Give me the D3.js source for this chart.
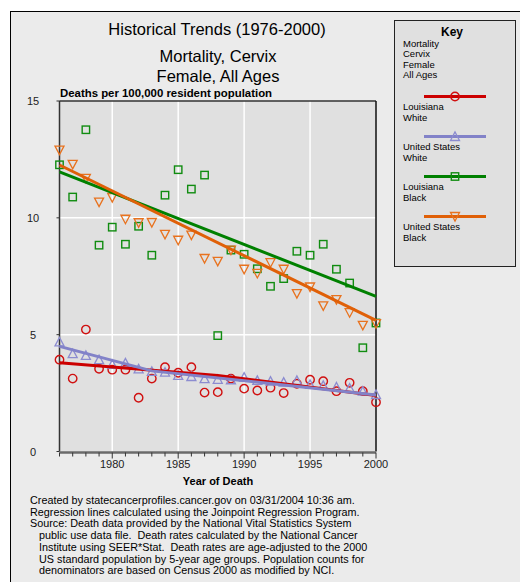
<!DOCTYPE html>
<html>
<head>
<meta charset="utf-8">
<script src="https://cdn.jsdelivr.net/npm/d3@7"></script>
<style>
  html, body { margin: 0; padding: 0; background: #fff; }
  svg { display: block; font-family: "Liberation Sans", Arial, sans-serif; }
</style>
</head>
<body>
<div id="chart"></div>
<script>
// observed rates, deaths per 100,000
const years = d3.range(1976, 2001);
const laWhite = [3.93, 3.12, 5.22, 3.54, 3.5, 3.5, 2.3, 3.12, 3.61, 3.37, 3.61, 2.52, 2.54,
  3.12, 2.69, 2.61, 2.73, 2.5, 2.9, 3.07, 3.01, 2.58, 2.94, 2.58, 2.11];
const usWhite = [4.69, 4.19, 4.11, 3.93, 3.73, 3.79, 3.54, 3.43, 3.4, 3.26, 3.21, 3.12, 3.09,
  3.07, 3.18, 3.04, 3.01, 2.97, 3.04, 2.87, 2.83, 2.76, 2.71, 2.58, 2.44];
const laBlack = [12.27, 10.89, 13.77, 8.83, 9.6, 8.87, 9.64, 8.4, 10.97, 12.06, 11.23, 11.83, 4.96,
  8.62, 8.44, 7.82, 7.07, 7.4, 8.57, 8.4, 8.87, 7.8, 7.21, 4.44, 5.5];
const usBlack = [12.9, 12.29, 11.69, 10.67, 10.87, 9.94, 9.79, 9.8, 9.29, 9.04, 9.26, 8.26, 8.14,
  8.62, 7.8, 7.62, 8.08, 7.8, 6.76, 7.04, 6.23, 6.5, 5.94, 5.4, 5.47];

// joinpoint regression lines (knot years / fitted values)
const laWhiteTrendYears = [1976, 1988, 2000];
const laWhiteTrend = [3.8, 3.25, 2.4];
const usWhiteTrendYears = [1976, 1983, 2000];
const usWhiteTrend = [4.5, 3.45, 2.42];
const laBlackTrendYears = [1976, 2000];
const laBlackTrend = [11.97, 6.64];
const usBlackTrendYears = [1976, 2000];
const usBlackTrend = [12.26, 5.61];

const yTicks = [0, 5, 10, 15];
const xTicks = [1980, 1985, 1990, 1995, 2000];

const keyHeader = ["Mortality", "Cervix", "Female", "All Ages"];
const footer = [
  "Created by statecancerprofiles.cancer.gov on 03/31/2004 10:36 am.",
  "Regression lines calculated using the Joinpoint Regression Program.",
  "Source: Death data provided by the National Vital Statistics System",
  "   public use data file.  Death rates calculated by the National Cancer",
  "   Institute using SEER*Stat.  Death rates are age-adjusted to the 2000",
  "   US standard population by 5-year age groups. Population counts for",
  "   denominators are based on Census 2000 as modified by NCI."
];

const series = [
  { name: ["Louisiana", "White"], values: laWhite, ty: laWhiteTrendYears, tv: laWhiteTrend,
    color: "#cc0000", mark: "#d01010", shape: "circle" },
  { name: ["United States", "White"], values: usWhite, ty: usWhiteTrendYears, tv: usWhiteTrend,
    color: "#8282c8", mark: "#8c8cd0", shape: "up" },
  { name: ["Louisiana", "Black"], values: laBlack, ty: laBlackTrendYears, tv: laBlackTrend,
    color: "#008000", mark: "#108c10", shape: "square" },
  { name: ["United States", "Black"], values: usBlack, ty: usBlackTrendYears, tv: usBlackTrend,
    color: "#e06008", mark: "#e8721e", shape: "down" }
];

const W = 520, H = 582;

const svg = d3.select("#chart").append("svg")
  .attr("width", W).attr("height", H);

// outer frame
svg.append("rect").attr("x", 10.5).attr("y", 11.5).attr("width", W).attr("height", H)
  .attr("fill", "#ebebeb").attr("stroke", "#000").attr("stroke-width", 1);

const x = d3.scaleLinear().domain([1976, 2000]).range([59.5, 376]);
const y = d3.scaleLinear().domain([0, 15]).range([451.5, 101]);

// plot background
svg.append("rect")
  .attr("x", x(1976)).attr("y", y(15))
  .attr("width", x(2000) - x(1976)).attr("height", y(0) - y(15))
  .attr("fill", "#e0e0e0");

// grid
svg.append("g").selectAll("line").data(xTicks.filter(d => d < 2000)).join("line")
  .attr("x1", d => x(d)).attr("x2", d => x(d))
  .attr("y1", y(0)).attr("y2", y(15))
  .attr("stroke", "#fff").attr("stroke-width", 1.5);
svg.append("g").selectAll("line").data(yTicks.filter(d => d > 0 && d < 15)).join("line")
  .attr("x1", x(1976)).attr("x2", x(2000))
  .attr("y1", d => y(d)).attr("y2", d => y(d))
  .attr("stroke", "#fff").attr("stroke-width", 1.5);

// frame lines: top, right, left
svg.append("line").attr("x1", x(1976)).attr("x2", x(2000)).attr("y1", y(15)).attr("y2", y(15))
  .attr("stroke", "#333").attr("stroke-width", 1.5);
svg.append("line").attr("x1", x(2000)).attr("x2", x(2000)).attr("y1", y(15)).attr("y2", y(0))
  .attr("stroke", "#111").attr("stroke-width", 1.5);
svg.append("line").attr("x1", x(1976)).attr("x2", x(1976)).attr("y1", y(15)).attr("y2", y(0))
  .attr("stroke", "#333").attr("stroke-width", 1.5);

// y ticks and labels
svg.append("g").selectAll("line").data(yTicks).join("line")
  .attr("x1", x(1976) - 3).attr("x2", x(1976))
  .attr("y1", d => y(d)).attr("y2", d => y(d))
  .attr("stroke", "#333");
svg.append("g").selectAll("text").data(yTicks).join("text")
  .attr("x", 33).attr("y", d => y(d) + 4)
  .attr("text-anchor", "middle").attr("font-size", 11).attr("fill", "#222")
  .text(d => d);

// x axis
svg.append("line").attr("x1", x(1976)).attr("x2", x(2000)).attr("y1", y(0) + 1).attr("y2", y(0) + 1)
  .attr("stroke", "#6a6a6a").attr("stroke-width", 2.5);
svg.append("g").selectAll("line").data(years).join("line")
  .attr("x1", d => x(d)).attr("x2", d => x(d))
  .attr("y1", y(0) + 1).attr("y2", d => y(0) + (d % 5 === 0 ? 7 : 5))
  .attr("stroke", "#333");
svg.append("g").selectAll("text").data(xTicks).join("text")
  .attr("x", d => x(d)).attr("y", 468)
  .attr("text-anchor", "middle").attr("font-size", 11).attr("fill", "#222")
  .text(d => d);
svg.append("text").attr("x", 218).attr("y", 485).attr("text-anchor", "middle")
  .attr("font-size", 11).attr("font-weight", "bold").text("Year of Death");

// titles
svg.append("text").attr("x", 217).attr("y", 35).attr("text-anchor", "middle")
  .attr("font-size", 16.5).text("Historical Trends (1976-2000)");
svg.append("text").attr("x", 218).attr("y", 62).attr("text-anchor", "middle")
  .attr("font-size", 16.5).text("Mortality, Cervix");
svg.append("text").attr("x", 218).attr("y", 82).attr("text-anchor", "middle")
  .attr("font-size", 16.5).text("Female, All Ages");
svg.append("text").attr("x", 60).attr("y", 97)
  .attr("font-size", 11.4).attr("font-weight", "bold").text("Deaths per 100,000 resident population");

function marker(g, shape, color) {
  if (shape === "circle") {
    g.append("circle").attr("r", 4.2).attr("fill", "none").attr("stroke", color).attr("stroke-width", 1.4);
  } else if (shape === "square") {
    g.append("rect").attr("x", -3.7).attr("y", -3.7).attr("width", 7.4).attr("height", 7.4)
      .attr("fill", "none").attr("stroke", color).attr("stroke-width", 1.4);
  } else {
    const s = shape === "up" ? -1 : 1;
    g.append("path").attr("d", `M-4.5,${-4 * s}L4.5,${-4 * s}L0,${4.5 * s}Z`)
      .attr("fill", "none").attr("stroke", color).attr("stroke-width", 1.3);
  }
}

// markers
series.forEach(s => {
  svg.append("g").selectAll("g").data(years).join("g")
    .attr("transform", (d, i) => `translate(${x(d)},${y(s.values[i])})`)
    .each(function () { marker(d3.select(this), s.shape, s.mark); });
});

// regression lines
const line = d3.line().x(d => x(d[0])).y(d => y(d[1]));
series.forEach(s => {
  svg.append("path").datum(s.ty.map((t, i) => [t, s.tv[i]]))
    .attr("d", line).attr("fill", "none").attr("stroke", s.color).attr("stroke-width", 3);
});

// key
const key = svg.append("g");
key.append("rect").attr("x", 394.5).attr("y", 20.5).attr("width", 121).attr("height", 246)
  .attr("fill", "#e0e0e0").attr("stroke", "#222").attr("stroke-width", 1);
key.append("text").attr("x", 452).attr("y", 36).attr("text-anchor", "middle")
  .attr("font-size", 12).attr("font-weight", "bold").text("Key");
key.selectAll("text.h").data(keyHeader).join("text").attr("class", "h")
  .attr("x", 403).attr("y", (d, i) => 46.5 + i * 10.5)
  .attr("font-size", 9.5).text(d => d);
series.forEach((s, i) => {
  const yy = 96.5 + i * 40;
  key.append("line").attr("x1", 424).attr("x2", 486).attr("y1", yy).attr("y2", yy)
    .attr("stroke", s.color).attr("stroke-width", 3);
  const m = key.append("g").attr("transform", `translate(455,${yy})`);
  marker(m, s.shape, s.mark);
  s.name.forEach((n, j) => {
    key.append("text").attr("x", 403).attr("y", yy + 13.5 + j * 11)
      .attr("font-size", 9.5).text(n);
  });
});

// footer
svg.append("g").selectAll("text").data(footer).join("text")
  .attr("x", 30).attr("y", (d, i) => 504 + i * 11.7)
  .attr("font-size", 10.8).attr("xml:space", "preserve").style("white-space", "pre")
  .text(d => d);
</script>
</body>
</html>
